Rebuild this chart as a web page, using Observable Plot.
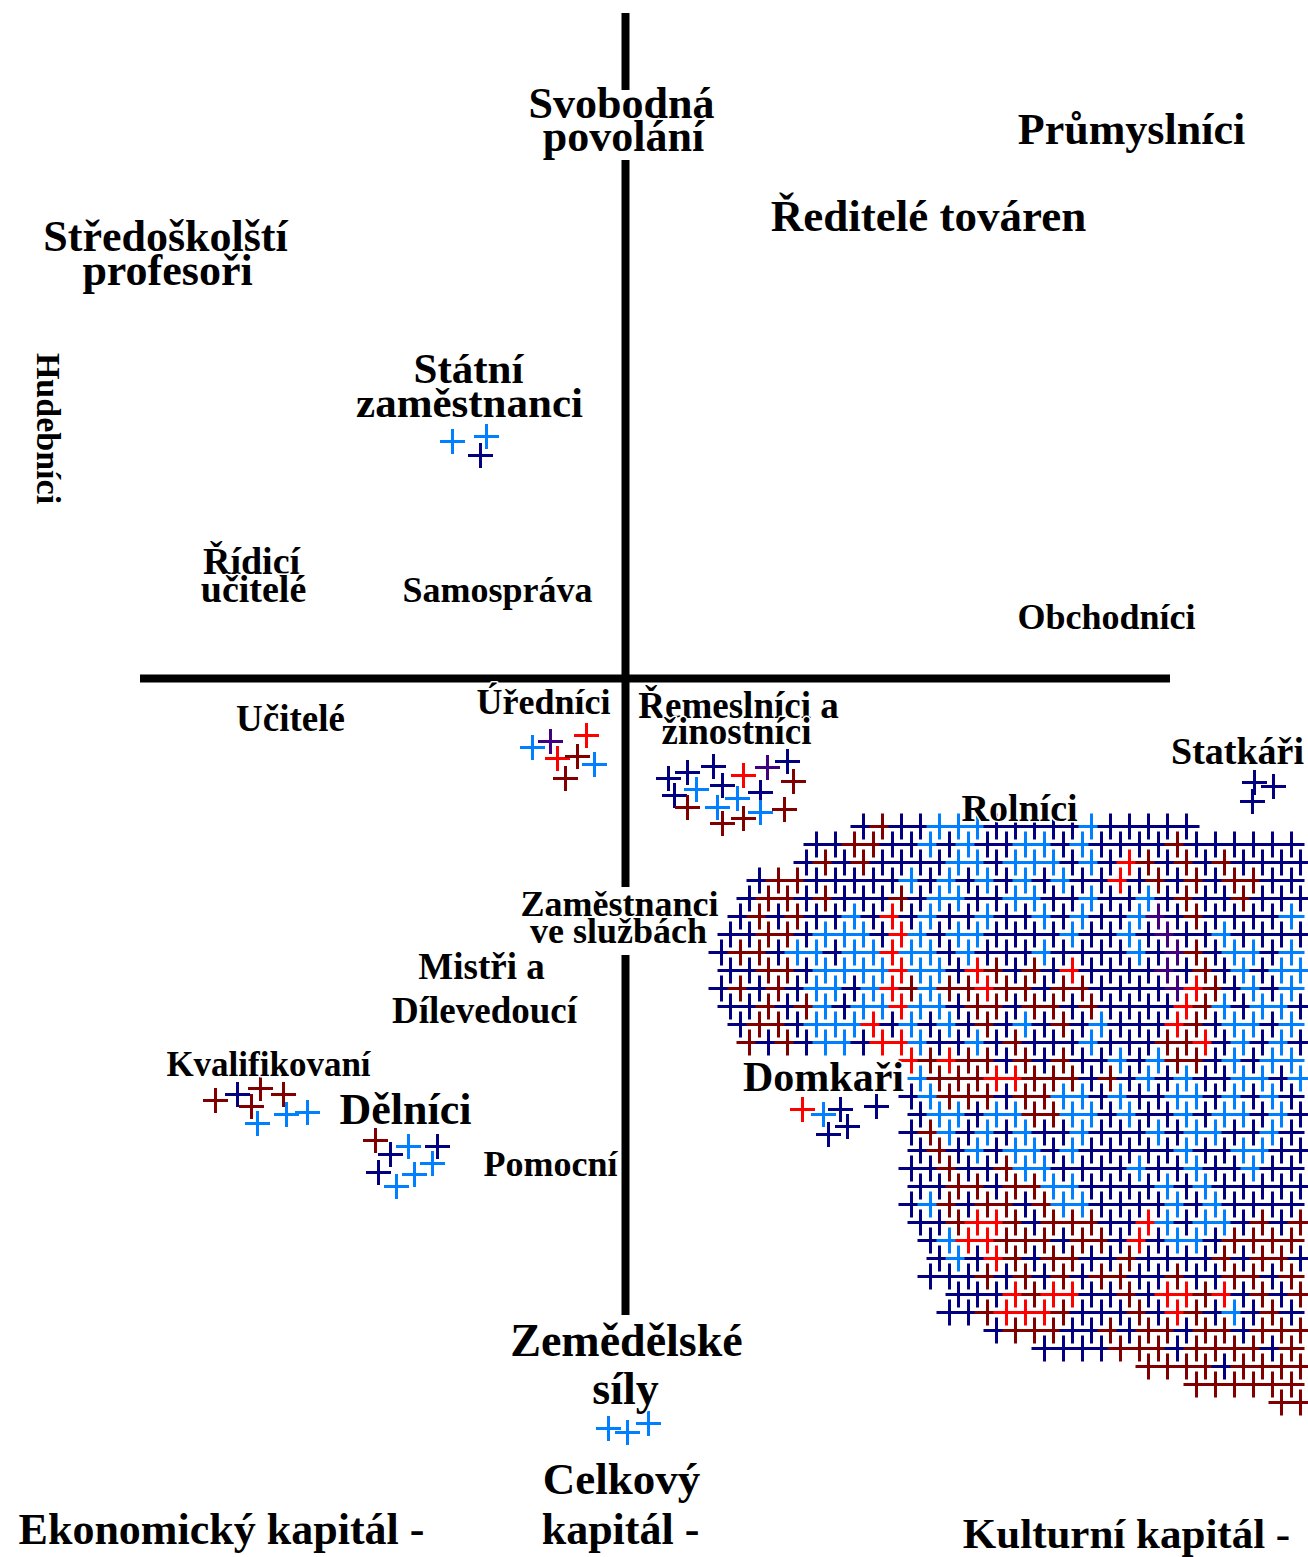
<!DOCTYPE html>
<html>
<head>
<meta charset="utf-8">
<script src="https://cdn.jsdelivr.net/npm/d3@7"></script>
<script src="https://cdn.jsdelivr.net/npm/@observablehq/plot@0.6"></script>
<style>
  html, body { margin: 0; padding: 0; background: #fff; }
  #chart svg { display: block; }
</style>
</head>
<body>
<div id="chart"></div>
<script>
// ---- Data (chart units: axes cross at 0,0) ----
const colorCodes = ["b", "l", "m", "r", "p"];
const colorValues = ["#000080", "#0080ff", "#800000", "#ff0000", "#400080"];

// Axis segments (the vertical axis is interrupted by two labels)
const verticalAxis = [
  {x: 0, y1: 665, y2: 588},
  {x: 0, y1: 518, y2: -209},
  {x: 0, y1: -277, y2: -637}
];
const horizontalAxis = [{y: 0, x1: -485, x2: 545}];

// Small groups of respondents: [x, y, colour code]
const statniZamestnanci = [[-173, 237, "l"], [-139, 242, "l"], [-145, 223, "b"]];
const urednici = [[-93, -69, "l"], [-75, -63, "p"], [-39, -57, "r"], [-68, -80, "r"], [-48, -78, "m"], [-31, -86, "l"], [-60, -100, "m"]];
const remeslnici = [
  [43, -100, "b"], [62, -94, "b"], [88, -88, "b"], [118, -97, "r"], [142, -89, "p"], [162, -83, "b"],
  [168, -103, "m"], [49, -117, "b"], [71, -111, "l"], [97, -107, "b"], [135, -114, "b"], [112, -120, "l"],
  [62, -129, "m"], [92, -129, "l"], [135, -134, "l"], [118, -140, "m"], [97, -145, "m"], [159, -131, "m"]
];
const statkari = [[629, -104, "b"], [648, -108, "b"], [627, -123, "b"]];
const kvalifikovani = [[-410, -422, "m"], [-388, -416, "b"], [-365, -410, "m"], [-342, -416, "m"], [-374, -428, "m"], [-368, -445, "l"], [-339, -436, "l"], [-318, -434, "l"]];
const pomocni = [[-250, -462, "m"], [-235, -476, "b"], [-217, -468, "l"], [-188, -468, "b"], [-193, -485, "l"], [-247, -494, "b"], [-211, -496, "l"], [-229, -508, "l"]];
const domkari = [[177, -431, "r"], [198, -436, "l"], [215, -431, "b"], [251, -428, "b"], [203, -456, "b"], [222, -448, "b"]];
const zemedelskeSily = [[-17, -750, "l"], [2, -754, "l"], [23, -745, "l"]];

// Rolníci cloud read as a staggered grid: column positions (even / odd rows), row positions, colour per cell
const cloudColsEven = [105, 124, 143, 162, 181, 200, 219, 238, 257, 276, 295, 314, 333, 352, 371, 390, 409, 428, 447, 466, 485, 504, 523, 542, 561, 580, 599, 618, 637, 656, 675];
const cloudColsOdd = [96, 115, 134, 153, 172, 191, 210, 229, 248, 267, 286, 305, 324, 343, 362, 381, 400, 419, 438, 457, 476, 495, 514, 533, 552, 571, 590, 609, 628, 647, 666];
const cloudRows = [-148, -166, -184, -202, -220, -238, -256, -274, -292, -310, -328, -346, -364, -382, -400, -418, -436, -454, -472, -490, -508, -526, -544, -562, -580, -598, -616, -634, -652, -670, -688, -706, -724];
const cloudGrid = [
  ".......bmbblllbbbbblbbbbb......",
  ".....bbmmbblblbbllblbbbbmbbbbbb",
  "....bmbmbbbbllblllblbrmbmbmbbbb",
  "..bmmbbbbblblblblblbbrbmbmbmmbb",
  ".bmmbmbbbmbllbbllbblbblbmbbmbbb",
  ".bmbmbblbrblbblbblblbblpbmbbbbl",
  "bbmmblllbrlbllbbbblbblbpbblbbbb",
  "bmmbllbllrllblbbblbbbblbpmbllbl",
  "bbmmbllllrllbrmbmbrbbbbpbmblbll",
  "bmbmbllblrmlmmrmmbmmbbbbprmblbl",
  "bbmbmlbllrllbmmbmmbmbbbbrmlbllb",
  ".bmmblllrblblbmblbmblbbbrmbllbl",
  ".mbmbllbrrlbblbmbbblbbbmmrblblb",
  "..........rmrmmbmbmbblblmmblbll",
  "..........lmmmrrmmmbmblblbbllbl",
  "..........blmmmbmmllblbbllblblb",
  "..........bllbllmmllblbblbllblb",
  "..........bmlblblbblbbblbllbblb",
  "..........bmblbllblbbbbblbbllbb",
  "..........bbmbbmllbbbblbblbblbb",
  "..........bbmmbmmllbbbblblbbbbb",
  "..........blmbmmbmllbbbblblbbbb",
  "..........bbmrrmbmmmbbrlbllbmbm",
  "...........blrrmmmbmmbrbllbmmmm",
  "...........blbrmbmmbbmbbbbmbmmb",
  "...........bbbmbmbmbmmbbmbbmmbm",
  "............bbbrmrrbbmbrrmrbmbm",
  "............bbmrrrmbbbmbrmblbmb",
  "..............bmmmbbmbmmbmmbmmm",
  ".................bbbbmmmbmmmmbm",
  "......................mmmmbmmmm",
  ".........................mmmmmm",
  ".............................mm"
];

// Labels: text, centre x, baseline y, font size
const labels = [
  {text: "Svobodná", x: -4, y: 561, size: 44},
  {text: "povolání", x: -2, y: 528, size: 44},
  {text: "Průmyslníci", x: 506, y: 535, size: 44},
  {text: "Ředitelé továren", x: 303, y: 448, size: 45},
  {text: "Středoškolští", x: -460, y: 428, size: 44},
  {text: "profesoři", x: -458, y: 394, size: 44},
  {text: "Státní", x: -157, y: 296, size: 43},
  {text: "zaměstnanci", x: -156, y: 262, size: 43},
  {text: "Řídicí", x: -374, y: 105, size: 38},
  {text: "učitelé", x: -372, y: 77, size: 38},
  {text: "Samospráva", x: -128, y: 77, size: 36},
  {text: "Obchodníci", x: 481, y: 50, size: 36},
  {text: "Učitelé", x: -335, y: -52, size: 37},
  {text: "Úředníci", x: -82, y: -35, size: 36},
  {text: "Řemeslníci a", x: 113, y: -39, size: 37},
  {text: "žinostníci", x: 111, y: -65, size: 37},
  {text: "Statkáři", x: 612, y: -85, size: 38},
  {text: "Rolníci", x: 394, y: -142, size: 38},
  {text: "Zaměstnanci", x: -6, y: -237, size: 36},
  {text: "ve službách", x: -7, y: -264, size: 36},
  {text: "Mistři a", x: -144, y: -300, size: 37},
  {text: "Dílevedoucí", x: -141, y: -344, size: 37},
  {text: "Kvalifikovaní", x: -357, y: -397, size: 35},
  {text: "Dělníci", x: -220, y: -445, size: 44},
  {text: "Pomocní", x: -75, y: -497, size: 36},
  {text: "Domkaři", x: 198, y: -412, size: 42},
  {text: "Zemědělské", x: 1, y: -677, size: 46},
  {text: "síly", x: 0, y: -725, size: 46},
  {text: "Celkový", x: -4, y: -815, size: 45},
  {text: "kapitál -", x: -5, y: -865, size: 44},
  {text: "Ekonomický kapitál -", x: -404, y: -865, size: 44},
  {text: "Kulturní kapitál -", x: 501, y: -869, size: 43}
];
const verticalLabels = [{text: "Hudebníci", x: -578, y: 250, size: 34}];

// ---- Build tables for the marks ----
const toPoints = (arr) => arr.map(([x, y, c]) => ({x, y, c}));
const smallGroups = [statniZamestnanci, urednici, remeslnici, statkari, kvalifikovani, pomocni, domkari, zemedelskeSily]
  .flatMap(toPoints);
const cloud = [];
cloudGrid.forEach((row, j) => {
  const cols = j % 2 === 0 ? cloudColsEven : cloudColsOdd;
  Array.from(row).forEach((c, i) => {
    if (c !== "." && i < cols.length) cloud.push({x: cols[i], y: cloudRows[j], c});
  });
});

// thin stroked plus sign
const thinPlus = {
  draw(context, size) {
    const r = Math.sqrt(size / Math.PI);
    context.moveTo(-r, 0); context.lineTo(r, 0);
    context.moveTo(0, -r); context.lineTo(0, r);
  }
};

const font = "'Liberation Serif', 'Times New Roman', serif";

const chart = Plot.plot({
  width: 1308,
  height: 1557,
  margin: 0,
  style: {background: "#fff"},
  x: {domain: [-625, 683], axis: null},
  y: {domain: [-879, 678], axis: null},
  color: {type: "ordinal", domain: colorCodes, range: colorValues},
  marks: [
    Plot.ruleX(verticalAxis, {x: "x", y1: "y1", y2: "y2", stroke: "black", strokeWidth: 8}),
    Plot.ruleY(horizontalAxis, {y: "y", x1: "x1", x2: "x2", stroke: "black", strokeWidth: 8}),
    Plot.dot(cloud, {x: "x", y: "y", stroke: "c", symbol: thinPlus, r: 13, strokeWidth: 3, fill: "none", strokeLinecap: "butt"}),
    Plot.dot(smallGroups, {x: "x", y: "y", stroke: "c", symbol: thinPlus, r: 12.5, strokeWidth: 3, fill: "none", strokeLinecap: "butt"}),
    Plot.text(labels, {
      x: "x", y: "y", text: "text", fontSize: "size",
      textAnchor: "middle", lineAnchor: "bottom",
      fontFamily: font, fontWeight: "bold", fill: "black",
      stroke: "white", strokeWidth: 3
    }),
    Plot.text(verticalLabels, {
      x: "x", y: "y", text: "text", fontSize: "size", rotate: 90,
      textAnchor: "middle", lineAnchor: "middle",
      fontFamily: font, fontWeight: "bold", fill: "black"
    })
  ]
});
document.getElementById("chart").appendChild(chart);
</script>
</body>
</html>
